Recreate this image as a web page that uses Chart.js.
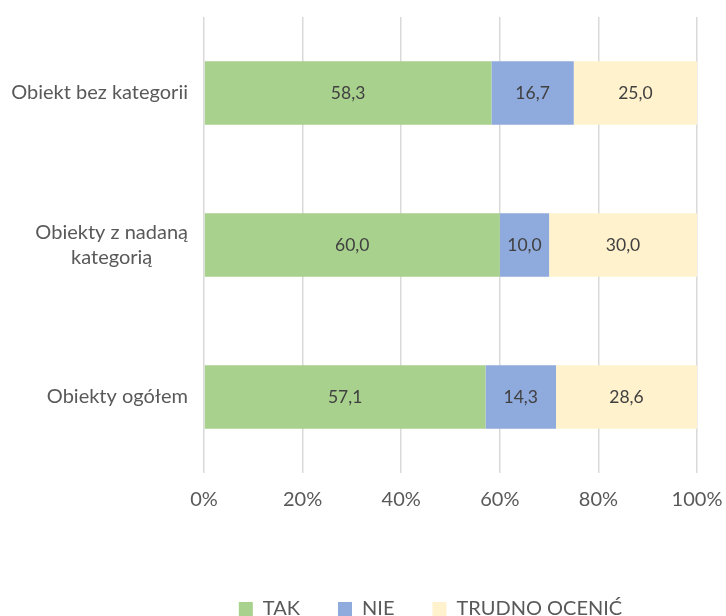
<!DOCTYPE html>
<html>
<head>
<meta charset="utf-8">
<script src="https://cdn.jsdelivr.net/npm/chart.js@4.4.0/dist/chart.umd.min.js"></script>
<style>
  html, body { margin: 0; padding: 0; background: #fff; overflow: hidden; }
  #wrap { width: 726px; height: 629px; position: relative; }
</style>
</head>
<body>
<div id="wrap"><canvas id="chart"></canvas></div>
<script>
var categories = [['Obiekt bez kategorii'], ['Obiekty z nadaną', 'kategorią'], ['Obiekty ogółem']];
var tak = [58.3, 60.0, 57.1];
var nie = [16.7, 10.0, 14.3];
var trudno = [25.0, 30.0, 28.6];
var seriesNames = ['TAK', 'NIE', 'TRUDNO OCENIĆ'];
var fontFamily = 'Lato, "Open Sans", sans-serif';
var textColor = '#595959';

// values inside the bars, polish decimal comma
var barLabels = {
  id: 'barLabels',
  afterDatasetsDraw: function (chart) {
    var ctx = chart.ctx;
    ctx.save();
    ctx.font = '17.5px ' + fontFamily;
    ctx.fillStyle = '#404040';
    ctx.textAlign = 'center';
    ctx.textBaseline = 'middle';
    chart.data.datasets.forEach(function (ds, i) {
      chart.getDatasetMeta(i).data.forEach(function (bar, j) {
        var p = bar.getCenterPoint();
        ctx.fillText(ds.data[j].toFixed(1).replace('.', ','), p.x, p.y);
      });
    });
    ctx.restore();
  }
};

// category labels: block right aligned, lines centred inside the block
var catLabels = {
  id: 'catLabels',
  afterDraw: function (chart) {
    var ctx = chart.ctx;
    var y = chart.scales.y;
    ctx.save();
    ctx.font = '20px ' + fontFamily;
    ctx.fillStyle = textColor;
    ctx.textAlign = 'center';
    ctx.textBaseline = 'middle';
    var lineH = 25;
    categories.forEach(function (lines, i) {
      var w = Math.max.apply(null, lines.map(function (l) { return ctx.measureText(l).width; }));
      var cx = y.right - 16 - w / 2;
      var cy = y.getPixelForTick(i);
      lines.forEach(function (l, k) {
        ctx.fillText(l, cx, cy + (k - (lines.length - 1) / 2) * lineH);
      });
    });
    ctx.restore();
  }
};

document.addEventListener('DOMContentLoaded', function () {
  new Chart(document.getElementById('chart').getContext('2d'), {
    type: 'bar',
    data: {
      labels: categories,
      datasets: [
        { label: seriesNames[0], data: tak, backgroundColor: '#a9d18e' },
        { label: seriesNames[1], data: nie, backgroundColor: '#8faadc' },
        { label: seriesNames[2], data: trudno, backgroundColor: '#fff2cc' }
      ]
    },
    options: {
      indexAxis: 'y',
      responsive: true,
      maintainAspectRatio: false,
      animation: false,
      layout: { padding: { top: 17, right: 29, left: 164, bottom: 0 } },
      datasets: { bar: { categoryPercentage: 1 / 2.4, barPercentage: 1 } },
      scales: {
        x: {
          stacked: true,
          min: 0,
          max: 100,
          border: { display: false },
          grid: { color: '#d9d9d9', lineWidth: 1.5, drawTicks: false },
          ticks: {
            stepSize: 20,
            padding: 15,
            color: textColor,
            font: { family: fontFamily, size: 20 },
            callback: function (v) { return v + '%'; }
          },
          afterFit: function (scale) {
            scale.height = 88;
            scale.paddingLeft = 0;
            scale.paddingRight = 0;
          }
        },
        y: {
          stacked: true,
          border: { display: false },
          grid: { display: false },
          ticks: { display: false },
          afterFit: function (scale) { scale.width = 40; }
        }
      },
      plugins: {
        legend: {
          position: 'bottom',
          labels: {
            boxWidth: 14,
            boxHeight: 14,
            padding: 38,
            color: textColor,
            font: { family: fontFamily, size: 20 }
          }
        },
        tooltip: { enabled: false }
      }
    },
    plugins: [barLabels, catLabels]
  });
});
</script>
</body>
</html>
